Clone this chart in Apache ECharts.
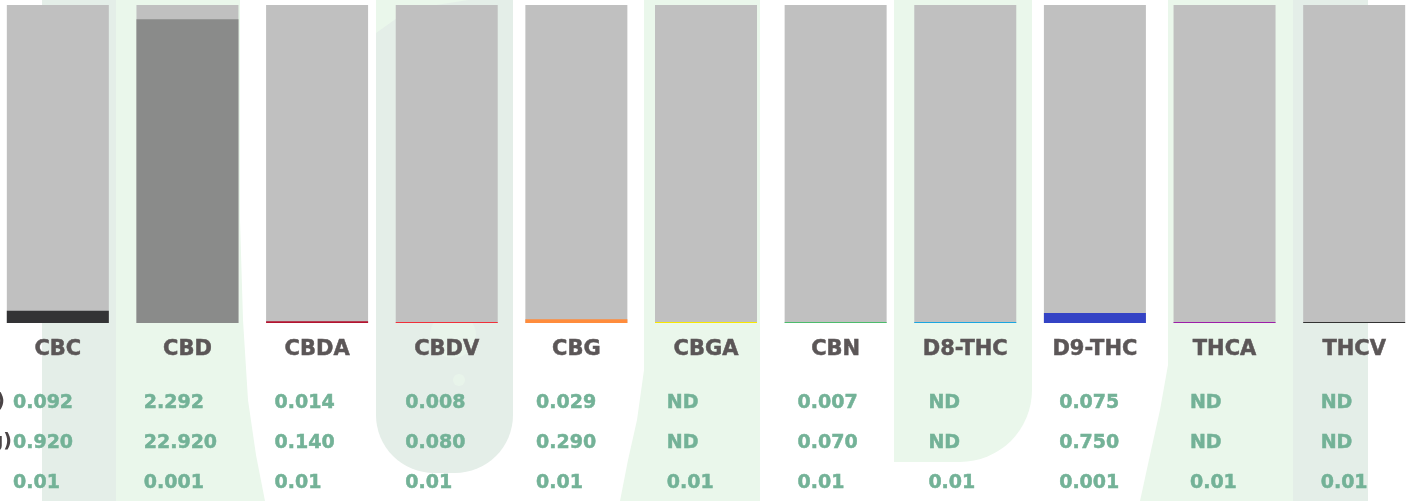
<!DOCTYPE html>
<html>
<head>
<meta charset="utf-8">
<script src="https://cdn.jsdelivr.net/npm/echarts@6/dist/echarts.min.js"></script>
<style>
html,body{margin:0;padding:0;background:#ffffff;}
#chart{width:1411px;height:501px;}
</style>
</head>
<body>
<div id="chart"></div>
<script>
// ---- data ----
var categories = ['CBC','CBD','CBDA','CBDV','CBG','CBGA','CBN','D8-THC','D9-THC','THCA','THCV'];
// percent values (ND = not detected -> 0)
var percentValues = [0.092, 2.292, 0.014, 0.008, 0.029, 0, 0.007, 0, 0.075, 0, 0];
var percentLabels = ['0.092','2.292','0.014','0.008','0.029','ND','0.007','ND','0.075','ND','ND'];
var mgLabels = ['0.920','22.920','0.140','0.080','0.290','ND','0.070','ND','0.750','ND','ND'];
var loqLabels = ['0.01','0.001','0.01','0.01','0.01','0.01','0.01','0.01','0.001','0.01','0.01'];
var barColors = ['#333335','#8a8b8a','#b3132f','#f0303a','#ff8c3c','#f8e800','#4cbb6c','#1aa6e0','#3443c5','#9c1ea8','#333333'];
var rowTitles = ['Total (%)','Total (mg/g)','LOQ (%)'];

var chart = echarts.init(document.getElementById('chart'), null, {renderer:'canvas'});
var FONT = 'DejaVu Sans';
var GREY_GREEN = '#e4eee8';
var LIGHT_GREEN = '#eaf7eb';
var VALUE_COLOR = '#73b297';
var LABEL_COLOR = '#5b5657';

function rowAxis(labels, offset) {
  return {
    type: 'category', gridIndex: 1, position: 'bottom', offset: offset,
    data: labels,
    axisLine: {show:false}, axisTick: {show:false}, splitLine:{show:false},
    axisLabel: {
      interval: 0, margin: 13, align: 'left', hideOverlap: false,
      color: VALUE_COLOR, fontFamily: FONT, fontWeight: 'bold', fontSize: 19,
      textBorderColor: VALUE_COLOR, textBorderWidth: 0.5
    }
  };
}

var option = {
  backgroundColor: '#ffffff',
  animation: false,
  graphic: { elements: [
    {type:'rect', z:-10, shape:{x:42,y:0,width:74,height:501}, style:{fill:GREY_GREEN}},
    {type:'polygon', z:-10, shape:{points:[[116,0],[240,0],[240,220],[243,320],[248,400],[256,455],[265,501],[116,501]]}, style:{fill:LIGHT_GREEN}},
    {type:'rect', z:-10, shape:{x:376,y:0,width:137,height:473,r:[0,0,58,58]}, style:{fill:GREY_GREEN}},
    {type:'polygon', z:-9, shape:{points:[[376,0],[468,0],[430,6],[400,16],[376,33]]}, style:{fill:LIGHT_GREEN}},
    {type:'circle', z:-9, shape:{cx:453,cy:335,r:23}, style:{fill:'#e8f4ea'}},
    {type:'circle', z:-9, shape:{cx:459,cy:380,r:6}, style:{fill:'#e8f4ea'}},
    {type:'polygon', z:-10, shape:{points:[[644,0],[760,0],[760,501],[620,501],[628,460],[637,420],[644,370]]}, style:{fill:LIGHT_GREEN}},
    {type:'rect', z:-10, shape:{x:894,y:0,width:138,height:462,r:[0,0,72,0]}, style:{fill:LIGHT_GREEN}},
    {type:'polygon', z:-10, shape:{points:[[1168,0],[1293,0],[1293,501],[1140,501],[1150,455],[1160,410],[1168,365]]}, style:{fill:LIGHT_GREEN}},
    {type:'rect', z:-10, shape:{x:1293,y:0,width:75,height:501}, style:{fill:GREY_GREEN}},
    {type:'text', z:5, style:{x:5, y:402, text:rowTitles[0], textAlign:'right', textVerticalAlign:'middle', fill:'#4a4446', font:'bold 19px "DejaVu Sans"'}},
    {type:'text', z:5, style:{x:12, y:442, text:rowTitles[1], textAlign:'right', textVerticalAlign:'middle', fill:'#4a4446', font:'bold 19px "DejaVu Sans"'}},
    {type:'text', z:5, style:{x:-20, y:482, text:rowTitles[2], textAlign:'right', textVerticalAlign:'middle', fill:'#4a4446', font:'bold 19px "DejaVu Sans"'}}
  ]},
  grid: [
    {left:-7, right:-8, top:5, height:318, containLabel:false, outerBoundsMode:'none'},
    {left:-52.4, right:24.9, top:380, height:1, containLabel:false, outerBoundsMode:'none'}
  ],
  xAxis: [
    {
      type:'category', gridIndex:0, data:categories,
      axisLine:{show:false}, axisTick:{show:false}, splitLine:{show:false},
      axisLabel:{interval:0, margin:16, hideOverlap:false, color:LABEL_COLOR, fontFamily:FONT, fontWeight:'bold', fontSize:21,
        textBorderColor:LABEL_COLOR, textBorderWidth:0.5}
    },
    rowAxis(percentLabels, 0),
    rowAxis(mgLabels, 40),
    rowAxis(loqLabels, 80)
  ],
  yAxis: [
    {type:'value', gridIndex:0, min:0, max:2.4, show:false},
    {type:'value', gridIndex:1, min:0, max:1, show:false}
  ],
  series: [{
    type:'bar', xAxisIndex:0, yAxisIndex:0,
    data: percentValues.map(function(v,i){ return {value:v, itemStyle:{color:barColors[i]}}; }),
    barWidth:102,
    barMinHeight:1,
    showBackground:true,
    backgroundStyle:{color:'#c0c0c0'}
  }]
};
chart.setOption(option);
</script>
</body>
</html>
